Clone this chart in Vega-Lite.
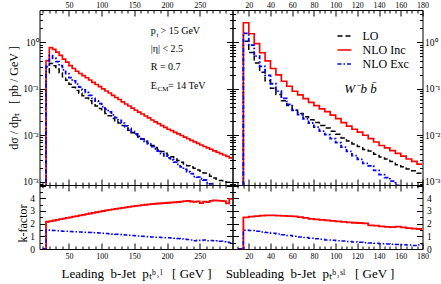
{
"$schema":"https://vega.github.io/schema/vega-lite/v6.json",
"autosize":"pad",
"padding":{"left":6.5,"top":0,"right":0,"bottom":0},
"background":"white",
"config":{"view":{"stroke":"black","strokeWidth":1},"axis":{"labelFont":"Liberation Serif","titleFont":"Liberation Serif","labelColor":"black","titleColor":"black","tickColor":"black","domain":false,"grid":false,"titleFontWeight":"normal","labelFlush":false,"labelOverlap":false,"minExtent":0},"legend":{"labelFont":"Liberation Serif"}},
"resolve":{"legend":{"color":"independent","strokeDash":"independent"}},
"datasets":{
"lead_xs":[
{"x":10,"LO":0.00001,"NLO Inc":0.00001,"NLO Exc":0.00001},
{"x":15,"LO":0.22,"NLO Inc":0.407,"NLO Exc":0.30},
{"x":20,"LO":0.353,"NLO Inc":0.776,"NLO Exc":0.519},
{"x":25,"LO":0.315,"NLO Inc":0.708,"NLO Exc":0.457},
{"x":30,"LO":0.268,"NLO Inc":0.617,"NLO Exc":0.386},
{"x":35,"LO":0.223,"NLO Inc":0.525,"NLO Exc":0.317},
{"x":40,"LO":0.182,"NLO Inc":0.437,"NLO Exc":0.257},
{"x":45,"LO":0.153,"NLO Inc":0.376,"NLO Exc":0.214},
{"x":50,"LO":0.126,"NLO Inc":0.316,"NLO Exc":0.174},
{"x":55,"LO":0.108,"NLO Inc":0.275,"NLO Exc":0.148},
{"x":60,"LO":0.0923,"NLO Inc":0.240,"NLO Exc":0.126},
{"x":65,"LO":0.0808,"NLO Inc":0.214,"NLO Exc":0.109},
{"x":70,"LO":0.0715,"NLO Inc":0.193,"NLO Exc":0.0951},
{"x":75,"LO":0.0633,"NLO Inc":0.174,"NLO Exc":0.0836},
{"x":80,"LO":0.0554,"NLO Inc":0.155,"NLO Exc":0.0726},
{"x":85,"LO":0.0484,"NLO Inc":0.138,"NLO Exc":0.0624},
{"x":90,"LO":0.0428,"NLO Inc":0.124,"NLO Exc":0.0548},
{"x":95,"LO":0.0380,"NLO Inc":0.112,"NLO Exc":0.0483},
{"x":100,"LO":0.0333,"NLO Inc":0.100,"NLO Exc":0.0416},
{"x":105,"LO":0.0296,"NLO Inc":0.0902,"NLO Exc":0.0364},
{"x":110,"LO":0.0263,"NLO Inc":0.0813,"NLO Exc":0.0318},
{"x":115,"LO":0.0231,"NLO Inc":0.0724,"NLO Exc":0.0275},
{"x":120,"LO":0.0206,"NLO Inc":0.0653,"NLO Exc":0.0241},
{"x":125,"LO":0.0183,"NLO Inc":0.0589,"NLO Exc":0.0210},
{"x":130,"LO":0.0162,"NLO Inc":0.0525,"NLO Exc":0.0183},
{"x":135,"LO":0.0144,"NLO Inc":0.0473,"NLO Exc":0.0160},
{"x":140,"LO":0.0128,"NLO Inc":0.0427,"NLO Exc":0.0140},
{"x":145,"LO":0.0114,"NLO Inc":0.0385,"NLO Exc":0.0122},
{"x":150,"LO":0.0102,"NLO Inc":0.0347,"NLO Exc":0.0107},
{"x":155,"LO":0.00921,"NLO Inc":0.0316,"NLO Exc":0.00949},
{"x":160,"LO":0.00832,"NLO Inc":0.0288,"NLO Exc":0.00832},
{"x":165,"LO":0.00745,"NLO Inc":0.0260,"NLO Exc":0.00730},
{"x":170,"LO":0.00673,"NLO Inc":0.0237,"NLO Exc":0.00653},
{"x":175,"LO":0.00603,"NLO Inc":0.0214,"NLO Exc":0.00573},
{"x":180,"LO":0.00546,"NLO Inc":0.0195,"NLO Exc":0.00508},
{"x":185,"LO":0.00496,"NLO Inc":0.0178,"NLO Exc":0.00456},
{"x":190,"LO":0.00449,"NLO Inc":0.0162,"NLO Exc":0.00404},
{"x":195,"LO":0.00408,"NLO Inc":0.0148,"NLO Exc":0.00363},
{"x":200,"LO":0.00370,"NLO Inc":0.0135,"NLO Exc":0.00326},
{"x":205,"LO":0.00343,"NLO Inc":0.0126,"NLO Exc":0.00295},
{"x":210,"LO":0.00314,"NLO Inc":0.0116,"NLO Exc":0.00264},
{"x":215,"LO":0.00288,"NLO Inc":0.0107,"NLO Exc":0.00236},
{"x":220,"LO":0.00264,"NLO Inc":0.00989,"NLO Exc":0.00209},
{"x":225,"LO":0.00242,"NLO Inc":0.00912,"NLO Exc":0.00184},
{"x":230,"LO":0.00221,"NLO Inc":0.00841,"NLO Exc":0.00164},
{"x":235,"LO":0.00207,"NLO Inc":0.00776,"NLO Exc":0.00149},
{"x":240,"LO":0.00195,"NLO Inc":0.00724,"NLO Exc":0.00129},
{"x":245,"LO":0.00178,"NLO Inc":0.00668,"NLO Exc":0.00125},
{"x":250,"LO":0.00170,"NLO Inc":0.00617,"NLO Exc":0.00116},
{"x":255,"LO":0.00154,"NLO Inc":0.00575,"NLO Exc":0.00109},
{"x":260,"LO":0.00145,"NLO Inc":0.00537,"NLO Exc":0.000957},
{"x":265,"LO":0.00132,"NLO Inc":0.00501,"NLO Exc":0.000898},
{"x":270,"LO":0.00121,"NLO Inc":0.00462,"NLO Exc":0.000787},
{"x":275,"LO":0.00113,"NLO Inc":0.00432,"NLO Exc":0.000746},
{"x":280,"LO":0.00106,"NLO Inc":0.00403,"NLO Exc":0.000657},
{"x":285,"LO":0.000995,"NLO Inc":0.00376,"NLO Exc":0.000577},
{"x":290,"LO":0.000975,"NLO Inc":0.00351,"NLO Exc":0.000527},
{"x":295,"LO":0.000828,"NLO Inc":0.00327,"NLO Exc":0.000414},
{"x":300,"LO":0.000828,"NLO Inc":0.00327,"NLO Exc":0.000414}
],
"lead_k":[
{"x":10,"NLO Inc":0,"NLO Exc":0},
{"x":15,"NLO Inc":2.15,"NLO Exc":1.50},
{"x":20,"NLO Inc":2.20,"NLO Exc":1.47},
{"x":25,"NLO Inc":2.25,"NLO Exc":1.45},
{"x":30,"NLO Inc":2.30,"NLO Exc":1.44},
{"x":35,"NLO Inc":2.35,"NLO Exc":1.42},
{"x":40,"NLO Inc":2.40,"NLO Exc":1.41},
{"x":45,"NLO Inc":2.45,"NLO Exc":1.40},
{"x":50,"NLO Inc":2.50,"NLO Exc":1.38},
{"x":55,"NLO Inc":2.55,"NLO Exc":1.37},
{"x":60,"NLO Inc":2.60,"NLO Exc":1.36},
{"x":65,"NLO Inc":2.65,"NLO Exc":1.35},
{"x":70,"NLO Inc":2.70,"NLO Exc":1.33},
{"x":75,"NLO Inc":2.75,"NLO Exc":1.32},
{"x":80,"NLO Inc":2.80,"NLO Exc":1.31},
{"x":85,"NLO Inc":2.85,"NLO Exc":1.29},
{"x":90,"NLO Inc":2.90,"NLO Exc":1.28},
{"x":95,"NLO Inc":2.95,"NLO Exc":1.27},
{"x":100,"NLO Inc":3.00,"NLO Exc":1.25},
{"x":105,"NLO Inc":3.05,"NLO Exc":1.23},
{"x":110,"NLO Inc":3.09,"NLO Exc":1.21},
{"x":115,"NLO Inc":3.13,"NLO Exc":1.19},
{"x":120,"NLO Inc":3.17,"NLO Exc":1.17},
{"x":125,"NLO Inc":3.21,"NLO Exc":1.15},
{"x":130,"NLO Inc":3.25,"NLO Exc":1.13},
{"x":135,"NLO Inc":3.29,"NLO Exc":1.11},
{"x":140,"NLO Inc":3.33,"NLO Exc":1.09},
{"x":145,"NLO Inc":3.37,"NLO Exc":1.07},
{"x":150,"NLO Inc":3.40,"NLO Exc":1.05},
{"x":155,"NLO Inc":3.43,"NLO Exc":1.03},
{"x":160,"NLO Inc":3.46,"NLO Exc":1.00},
{"x":165,"NLO Inc":3.49,"NLO Exc":0.98},
{"x":170,"NLO Inc":3.52,"NLO Exc":0.97},
{"x":175,"NLO Inc":3.55,"NLO Exc":0.95},
{"x":180,"NLO Inc":3.57,"NLO Exc":0.93},
{"x":185,"NLO Inc":3.59,"NLO Exc":0.92},
{"x":190,"NLO Inc":3.61,"NLO Exc":0.90},
{"x":195,"NLO Inc":3.63,"NLO Exc":0.89},
{"x":200,"NLO Inc":3.65,"NLO Exc":0.88},
{"x":205,"NLO Inc":3.67,"NLO Exc":0.86},
{"x":210,"NLO Inc":3.69,"NLO Exc":0.84},
{"x":215,"NLO Inc":3.71,"NLO Exc":0.82},
{"x":220,"NLO Inc":3.74,"NLO Exc":0.79},
{"x":225,"NLO Inc":3.77,"NLO Exc":0.76},
{"x":230,"NLO Inc":3.80,"NLO Exc":0.74},
{"x":235,"NLO Inc":3.75,"NLO Exc":0.72},
{"x":240,"NLO Inc":3.72,"NLO Exc":0.66},
{"x":245,"NLO Inc":3.76,"NLO Exc":0.70},
{"x":250,"NLO Inc":3.62,"NLO Exc":0.68},
{"x":255,"NLO Inc":3.74,"NLO Exc":0.71},
{"x":260,"NLO Inc":3.70,"NLO Exc":0.66},
{"x":265,"NLO Inc":3.80,"NLO Exc":0.68},
{"x":270,"NLO Inc":3.83,"NLO Exc":0.65},
{"x":275,"NLO Inc":3.82,"NLO Exc":0.66},
{"x":280,"NLO Inc":3.80,"NLO Exc":0.62},
{"x":285,"NLO Inc":3.78,"NLO Exc":0.58},
{"x":290,"NLO Inc":3.60,"NLO Exc":0.54},
{"x":295,"NLO Inc":3.95,"NLO Exc":0.50},
{"x":300,"NLO Inc":3.95,"NLO Exc":0.50}
],
"sub_xs":[
{"x":10,"LO":0.00001,"NLO Inc":0.00001,"NLO Exc":0.00001},
{"x":15,"LO":1.064,"NLO Inc":2.66,"NLO Exc":1.575},
{"x":20,"LO":0.604,"NLO Inc":1.54,"NLO Exc":0.876},
{"x":25,"LO":0.362,"NLO Inc":0.94,"NLO Exc":0.507},
{"x":30,"LO":0.227,"NLO Inc":0.60,"NLO Exc":0.306},
{"x":35,"LO":0.150,"NLO Inc":0.40,"NLO Exc":0.195},
{"x":40,"LO":0.103,"NLO Inc":0.275,"NLO Exc":0.129},
{"x":45,"LO":0.0758,"NLO Inc":0.20,"NLO Exc":0.0894},
{"x":50,"LO":0.0557,"NLO Inc":0.146,"NLO Exc":0.0624},
{"x":55,"LO":0.0438,"NLO Inc":0.114,"NLO Exc":0.0464},
{"x":60,"LO":0.0345,"NLO Inc":0.089,"NLO Exc":0.0345},
{"x":65,"LO":0.0294,"NLO Inc":0.0741,"NLO Exc":0.0279},
{"x":70,"LO":0.0252,"NLO Inc":0.0617,"NLO Exc":0.0227},
{"x":75,"LO":0.0216,"NLO Inc":0.0513,"NLO Exc":0.0184},
{"x":80,"LO":0.0188,"NLO Inc":0.0437,"NLO Exc":0.0150},
{"x":85,"LO":0.0162,"NLO Inc":0.0372,"NLO Exc":0.0123},
{"x":90,"LO":0.0143,"NLO Inc":0.0324,"NLO Exc":0.0103},
{"x":95,"LO":0.0123,"NLO Inc":0.0272,"NLO Exc":0.00849},
{"x":100,"LO":0.0105,"NLO Inc":0.0229,"NLO Exc":0.00693},
{"x":105,"LO":0.00879,"NLO Inc":0.0188,"NLO Exc":0.00554},
{"x":110,"LO":0.00752,"NLO Inc":0.0158,"NLO Exc":0.00451},
{"x":115,"LO":0.00652,"NLO Inc":0.0135,"NLO Exc":0.00365},
{"x":120,"LO":0.00571,"NLO Inc":0.0117,"NLO Exc":0.00303},
{"x":125,"LO":0.00495,"NLO Inc":0.0100,"NLO Exc":0.00248},
{"x":130,"LO":0.00458,"NLO Inc":0.00851,"NLO Exc":0.00220},
{"x":135,"LO":0.00389,"NLO Inc":0.00716,"NLO Exc":0.00175},
{"x":140,"LO":0.00339,"NLO Inc":0.00603,"NLO Exc":0.00142},
{"x":145,"LO":0.00307,"NLO Inc":0.00537,"NLO Exc":0.00123},
{"x":150,"LO":0.00271,"NLO Inc":0.00468,"NLO Exc":0.00103},
{"x":155,"LO":0.00231,"NLO Inc":0.00407,"NLO Exc":0.000832},
{"x":160,"LO":0.00209,"NLO Inc":0.00355,"NLO Exc":0.000711},
{"x":165,"LO":0.00188,"NLO Inc":0.00309,"NLO Exc":0.000583},
{"x":170,"LO":0.00172,"NLO Inc":0.00275,"NLO Exc":0.000464},
{"x":175,"LO":0.00152,"NLO Inc":0.00240,"NLO Exc":0.000502},
{"x":180,"LO":0.00152,"NLO Inc":0.00240,"NLO Exc":0.000502}
],
"sub_k":[
{"x":10,"NLO Inc":0,"NLO Exc":0},
{"x":15,"NLO Inc":2.50,"NLO Exc":1.48},
{"x":20,"NLO Inc":2.55,"NLO Exc":1.45},
{"x":25,"NLO Inc":2.60,"NLO Exc":1.40},
{"x":30,"NLO Inc":2.64,"NLO Exc":1.35},
{"x":35,"NLO Inc":2.66,"NLO Exc":1.30},
{"x":40,"NLO Inc":2.66,"NLO Exc":1.25},
{"x":45,"NLO Inc":2.64,"NLO Exc":1.18},
{"x":50,"NLO Inc":2.62,"NLO Exc":1.12},
{"x":55,"NLO Inc":2.60,"NLO Exc":1.06},
{"x":60,"NLO Inc":2.58,"NLO Exc":1.00},
{"x":65,"NLO Inc":2.52,"NLO Exc":0.95},
{"x":70,"NLO Inc":2.45,"NLO Exc":0.90},
{"x":75,"NLO Inc":2.38,"NLO Exc":0.85},
{"x":80,"NLO Inc":2.33,"NLO Exc":0.80},
{"x":85,"NLO Inc":2.30,"NLO Exc":0.76},
{"x":90,"NLO Inc":2.26,"NLO Exc":0.72},
{"x":95,"NLO Inc":2.22,"NLO Exc":0.69},
{"x":100,"NLO Inc":2.18,"NLO Exc":0.66},
{"x":105,"NLO Inc":2.14,"NLO Exc":0.63},
{"x":110,"NLO Inc":2.10,"NLO Exc":0.60},
{"x":115,"NLO Inc":2.07,"NLO Exc":0.56},
{"x":120,"NLO Inc":2.05,"NLO Exc":0.53},
{"x":125,"NLO Inc":2.02,"NLO Exc":0.50},
{"x":130,"NLO Inc":1.86,"NLO Exc":0.48},
{"x":135,"NLO Inc":1.84,"NLO Exc":0.45},
{"x":140,"NLO Inc":1.78,"NLO Exc":0.42},
{"x":145,"NLO Inc":1.75,"NLO Exc":0.40},
{"x":150,"NLO Inc":1.73,"NLO Exc":0.38},
{"x":155,"NLO Inc":1.76,"NLO Exc":0.36},
{"x":160,"NLO Inc":1.70,"NLO Exc":0.34},
{"x":165,"NLO Inc":1.64,"NLO Exc":0.31},
{"x":170,"NLO Inc":1.60,"NLO Exc":0.27},
{"x":175,"NLO Inc":1.58,"NLO Exc":0.33},
{"x":180,"NLO Inc":1.58,"NLO Exc":0.33}
]
},
"columns":2,
"spacing":0,
"bounds":"flush",
"concat":[
{
"width":193,"height":175,
"resolve":{"axis":{"x":"independent","y":"independent"}},
"layer":[
{"data":{"name":"lead_xs"},"transform":[{"fold":["LO","NLO Inc","NLO Exc"],"as":["s","y"]}],
"mark":{"type":"line","interpolate":"step-after","clip":true},
"encoding":{
"x":{"field":"x","type":"quantitative","scale":{"domain":[5,300],"nice":false,"zero":false},
"axis":{"orient":"top","title":null,"ticks":false,"values":[50,100,150,200,250],"labelPadding":1,"labelFontSize":8}},
"y":{"field":"y","type":"quantitative","scale":{"type":"log","domain":[0.00085,5],"nice":false},
"axis":{"orient":"left","title":"dσ / dpₜ\u00a0\u00a0\u00a0[ pb / GeV ]","titleFontSize":12,"titleX":-19.5,"ticks":false,"values":[0.001,0.01,0.1,1],"labelExpr":"datum.value == 1 ? '10⁰' : datum.value == 0.1 ? '10⁻¹' : datum.value == 0.01 ? '10⁻²' : '10⁻³'","labelPadding":1.5,"labelFontSize":9.5}},
"color":{"field":"s","type":"nominal","scale":{"domain":["LO","NLO Inc","NLO Exc"],"range":["#000000","#ff0000","#0000ff"]},"legend":null},
"strokeDash":{"field":"s","type":"nominal","scale":{"domain":["LO","NLO Inc","NLO Exc"],"range":[[5,3],[1,0],[4,2,1.5,2]]},"legend":null},
"strokeWidth":{"field":"s","type":"nominal","scale":{"domain":["LO","NLO Inc","NLO Exc"],"range":[1.5,1.8,1.5]},"legend":null}
}},
{"data":{"values":[{"t":"p","x":175,"y":1.73},{"t":"> 15 GeV","x":190,"y":1.73},{"t":"|η| < 2.5","x":175,"y":0.71},{"t":"R = 0.7","x":175,"y":0.29},{"t":"E","x":175,"y":0.118},{"t":"= 14 TeV","x":201.5,"y":0.118}]},
"mark":{"type":"text","align":"left","baseline":"middle","font":"Liberation Serif","fontSize":10},
"encoding":{
"x":{"field":"x","type":"quantitative","scale":{"domain":[5,300],"nice":false,"zero":false},
"axis":{"orient":"top","title":null,"labels":false,"values":[10,20,30,40,50,60,70,80,90,100,110,120,130,140,150,160,170,180,190,200,210,220,230,240,250,260,270,280,290],"tickSize":{"condition":{"test":"datum.value % 50 === 0","value":-6},"value":-3}}},
"y":{"field":"y","type":"quantitative","scale":{"type":"log","domain":[0.00085,5],"nice":false},
"axis":{"orient":"left","title":null,"labels":false,"values":[0.0009,0.001,0.002,0.003,0.004,0.005,0.006,0.007,0.008,0.009,0.01,0.02,0.03,0.04,0.05,0.06,0.07,0.08,0.09,0.1,0.2,0.3,0.4,0.5,0.6,0.7,0.8,0.9,1,2,3,4],"tickSize":{"condition":{"test":"indexof([0.001,0.01,0.1,1], datum.value) >= 0","value":-6},"value":-3}}},
"text":{"field":"t"}
}},
{"data":{"values":[{"t":"t","x":183.8,"y":1.73},{"t":"CM","x":185.5,"y":0.118}]},
"mark":{"type":"text","align":"left","baseline":"middle","font":"Liberation Serif","fontSize":7,"dy":3.5},
"encoding":{
"x":{"field":"x","type":"quantitative","scale":{"domain":[5,300],"nice":false,"zero":false},
"axis":{"orient":"bottom","title":null,"labels":false,"values":[10,20,30,40,50,60,70,80,90,100,110,120,130,140,150,160,170,180,190,200,210,220,230,240,250,260,270,280,290],"tickSize":{"condition":{"test":"datum.value % 50 === 0","value":-6},"value":-3}}},
"y":{"field":"y","type":"quantitative","scale":{"type":"log","domain":[0.00085,5],"nice":false},
"axis":{"orient":"right","title":null,"labels":false,"values":[0.0009,0.001,0.002,0.003,0.004,0.005,0.006,0.007,0.008,0.009,0.01,0.02,0.03,0.04,0.05,0.06,0.07,0.08,0.09,0.1,0.2,0.3,0.4,0.5,0.6,0.7,0.8,0.9,1,2,3,4],"tickSize":{"condition":{"test":"indexof([0.001,0.01,0.1,1], datum.value) >= 0","value":-6},"value":-3}}},
"text":{"field":"t"}
}}
]
},
{
"width":190,"height":175,
"resolve":{"axis":{"x":"independent","y":"independent"}},
"layer":[
{"data":{"name":"sub_xs"},"transform":[{"fold":["LO","NLO Inc","NLO Exc"],"as":["s","y"]}],
"mark":{"type":"line","interpolate":"step-after","clip":true},
"encoding":{
"x":{"field":"x","type":"quantitative","scale":{"domain":[5,180],"nice":false,"zero":false},
"axis":{"orient":"top","title":null,"ticks":false,"values":[20,40,60,80,100,120,140,160,180],"labelPadding":1,"labelFontSize":8}},
"y":{"field":"y","type":"quantitative","scale":{"type":"log","domain":[0.00085,5],"nice":false},
"axis":{"orient":"right","title":null,"ticks":false,"values":[0.001,0.01,0.1,1],"labelExpr":"datum.value == 1 ? '10⁰' : datum.value == 0.1 ? '10⁻¹' : datum.value == 0.01 ? '10⁻²' : '10⁻³'","labelPadding":2,"labelFontSize":9.5}},
"color":{"field":"s","type":"nominal","scale":{"domain":["LO","NLO Inc","NLO Exc"],"range":["#000000","#ff0000","#0000ff"]},
"legend":{"title":null,"orient":"none","legendX":104,"legendY":18,"padding":0,"symbolType":"stroke","symbolSize":196,"symbolStrokeWidth":1.6,"labelFontSize":12,"labelFont":"Liberation Serif","rowPadding":-3.5,"labelOffset":10}},
"strokeDash":{"field":"s","type":"nominal","scale":{"domain":["LO","NLO Inc","NLO Exc"],"range":[[5,3],[1,0],[4,2,1.5,2]]},"legend":{"title":null,"orient":"none","legendX":104,"legendY":18,"padding":0,"symbolType":"stroke","symbolSize":196,"symbolStrokeWidth":1.6,"labelFontSize":12,"labelFont":"Liberation Serif","rowPadding":-3.5,"labelOffset":10}},
"strokeWidth":{"field":"s","type":"nominal","scale":{"domain":["LO","NLO Inc","NLO Exc"],"range":[1.5,1.8,1.5]},"legend":null}
}},
{"data":{"values":[{"t":"W⁻","x":108,"y":0.1}]},
"mark":{"type":"text","align":"left","baseline":"middle","font":"Liberation Serif","fontStyle":"italic","fontSize":13},
"encoding":{
"x":{"field":"x","type":"quantitative","scale":{"domain":[5,180],"nice":false,"zero":false},
"axis":{"orient":"top","title":null,"labels":false,"values":[10,15,20,25,30,35,40,45,50,55,60,65,70,75,80,85,90,95,100,105,110,115,120,125,130,135,140,145,150,155,160,165,170,175,180],"tickSize":{"condition":{"test":"datum.value % 20 === 0","value":-6},"value":-3}}},
"y":{"field":"y","type":"quantitative","scale":{"type":"log","domain":[0.00085,5],"nice":false},
"axis":{"orient":"right","title":null,"labels":false,"values":[0.0009,0.001,0.002,0.003,0.004,0.005,0.006,0.007,0.008,0.009,0.01,0.02,0.03,0.04,0.05,0.06,0.07,0.08,0.09,0.1,0.2,0.3,0.4,0.5,0.6,0.7,0.8,0.9,1,2,3,4],"tickSize":{"condition":{"test":"indexof([0.001,0.01,0.1,1], datum.value) >= 0","value":-6},"value":-3}}},
"text":{"field":"t"}
}},
{"data":{"values":[{"t":"b b\u0304","x":123,"y":0.1}]},
"mark":{"type":"text","align":"left","baseline":"middle","font":"Liberation Serif","fontStyle":"italic","fontSize":13},
"encoding":{
"x":{"field":"x","type":"quantitative","scale":{"domain":[5,180],"nice":false,"zero":false},
"axis":{"orient":"bottom","title":null,"labels":false,"values":[10,15,20,25,30,35,40,45,50,55,60,65,70,75,80,85,90,95,100,105,110,115,120,125,130,135,140,145,150,155,160,165,170,175,180],"tickSize":{"condition":{"test":"datum.value % 20 === 0","value":-6},"value":-3}}},
"y":{"field":"y","type":"quantitative","scale":{"type":"log","domain":[0.00085,5],"nice":false},
"axis":{"orient":"left","title":null,"labels":false,"values":[0.0009,0.001,0.002,0.003,0.004,0.005,0.006,0.007,0.008,0.009,0.01,0.02,0.03,0.04,0.05,0.06,0.07,0.08,0.09,0.1,0.2,0.3,0.4,0.5,0.6,0.7,0.8,0.9,1,2,3,4],"tickSize":{"condition":{"test":"indexof([0.001,0.01,0.1,1], datum.value) >= 0","value":-6},"value":-3}}},
"text":{"field":"t"}
}}
]
},
{
"width":193,"height":64,
"data":{"name":"lead_k"},
"resolve":{"axis":{"x":"independent","y":"independent"}},
"layer":[
{"mark":{"type":"line","interpolate":"step-after","clip":true,"color":"#ff0000","strokeWidth":1.8},
"encoding":{
"x":{"field":"x","type":"quantitative","scale":{"domain":[5,300],"nice":false,"zero":false},
"axis":{"orient":"bottom","title":"Leading\u00a0\u00a0b-Jet\u00a0\u00a0pₜᵇ˒ˡ\u00a0\u00a0\u00a0[ GeV ]","titleFontSize":13,"titlePadding":7,"ticks":false,"values":[50,100,150,200,250],"labelPadding":3,"labelFontSize":8}},
"y":{"field":"NLO Inc","type":"quantitative","scale":{"domain":[0,5.05],"nice":false,"zero":true},
"axis":{"orient":"left","title":"k-factor","titleFontSize":12,"titleX":-10,"titleY":38,"ticks":false,"values":[0,1,2,3,4],"format":"d","labelPadding":5,"labelFontSize":9.5}}
}},
{"mark":{"type":"line","interpolate":"step-after","clip":true,"color":"#0000ff","strokeWidth":1.5,"strokeDash":[4,2,1.5,2]},
"encoding":{
"x":{"field":"x","type":"quantitative","scale":{"domain":[5,300],"nice":false,"zero":false},
"axis":{"orient":"bottom","title":null,"labels":false,"values":[10,20,30,40,50,60,70,80,90,100,110,120,130,140,150,160,170,180,190,200,210,220,230,240,250,260,270,280,290],"tickSize":{"condition":{"test":"datum.value % 50 === 0","value":-6},"value":-3}}},
"y":{"field":"NLO Exc","type":"quantitative","scale":{"domain":[0,5.05],"nice":false,"zero":true},
"axis":{"orient":"left","title":null,"labels":false,"values":[0,0.5,1,1.5,2,2.5,3,3.5,4,4.5,5],"tickSize":{"condition":{"test":"datum.value % 1 === 0","value":-6},"value":-3}}}
}},
{"mark":{"type":"point","opacity":0},
"encoding":{
"x":{"field":"x","type":"quantitative","scale":{"domain":[5,300],"nice":false,"zero":false},
"axis":{"orient":"top","title":null,"labels":false,"values":[10,20,30,40,50,60,70,80,90,100,110,120,130,140,150,160,170,180,190,200,210,220,230,240,250,260,270,280,290],"tickSize":{"condition":{"test":"datum.value % 50 === 0","value":-6},"value":-3}}},
"y":{"field":"NLO Inc","type":"quantitative","scale":{"domain":[0,5.05],"nice":false,"zero":true},
"axis":{"orient":"right","title":null,"labels":false,"values":[0,0.5,1,1.5,2,2.5,3,3.5,4,4.5,5],"tickSize":{"condition":{"test":"datum.value % 1 === 0","value":-6},"value":-3}}}
}}
]
},
{
"width":190,"height":64,
"data":{"name":"sub_k"},
"resolve":{"axis":{"x":"independent","y":"independent"}},
"layer":[
{"mark":{"type":"line","interpolate":"step-after","clip":true,"color":"#ff0000","strokeWidth":1.8},
"encoding":{
"x":{"field":"x","type":"quantitative","scale":{"domain":[5,180],"nice":false,"zero":false},
"axis":{"orient":"bottom","title":"Subleading\u00a0\u00a0b-Jet\u00a0\u00a0pₜᵇ˒ˢˡ\u00a0\u00a0\u00a0[ GeV ]","titleFontSize":13,"titlePadding":7,"titleX":77,"ticks":false,"values":[20,40,60,80,100,120,140,160,180],"labelPadding":3,"labelFontSize":8}},
"y":{"field":"NLO Inc","type":"quantitative","scale":{"domain":[0,5.05],"nice":false,"zero":true},
"axis":{"orient":"right","title":null,"ticks":false,"values":[0,1,2,3,4],"format":"d","labelPadding":4,"labelFontSize":9.5}}
}},
{"mark":{"type":"line","interpolate":"step-after","clip":true,"color":"#0000ff","strokeWidth":1.5,"strokeDash":[4,2,1.5,2]},
"encoding":{
"x":{"field":"x","type":"quantitative","scale":{"domain":[5,180],"nice":false,"zero":false},
"axis":{"orient":"bottom","title":null,"labels":false,"values":[10,15,20,25,30,35,40,45,50,55,60,65,70,75,80,85,90,95,100,105,110,115,120,125,130,135,140,145,150,155,160,165,170,175,180],"tickSize":{"condition":{"test":"datum.value % 20 === 0","value":-6},"value":-3}}},
"y":{"field":"NLO Exc","type":"quantitative","scale":{"domain":[0,5.05],"nice":false,"zero":true},
"axis":{"orient":"right","title":null,"labels":false,"values":[0,0.5,1,1.5,2,2.5,3,3.5,4,4.5,5],"tickSize":{"condition":{"test":"datum.value % 1 === 0","value":-6},"value":-3}}}
}},
{"mark":{"type":"point","opacity":0},
"encoding":{
"x":{"field":"x","type":"quantitative","scale":{"domain":[5,180],"nice":false,"zero":false},
"axis":{"orient":"top","title":null,"labels":false,"values":[10,15,20,25,30,35,40,45,50,55,60,65,70,75,80,85,90,95,100,105,110,115,120,125,130,135,140,145,150,155,160,165,170,175,180],"tickSize":{"condition":{"test":"datum.value % 20 === 0","value":-6},"value":-3}}},
"y":{"field":"NLO Inc","type":"quantitative","scale":{"domain":[0,5.05],"nice":false,"zero":true},
"axis":{"orient":"left","title":null,"labels":false,"values":[0,0.5,1,1.5,2,2.5,3,3.5,4,4.5,5],"tickSize":{"condition":{"test":"datum.value % 1 === 0","value":-6},"value":-3}}}
}}
]
}
]
}
